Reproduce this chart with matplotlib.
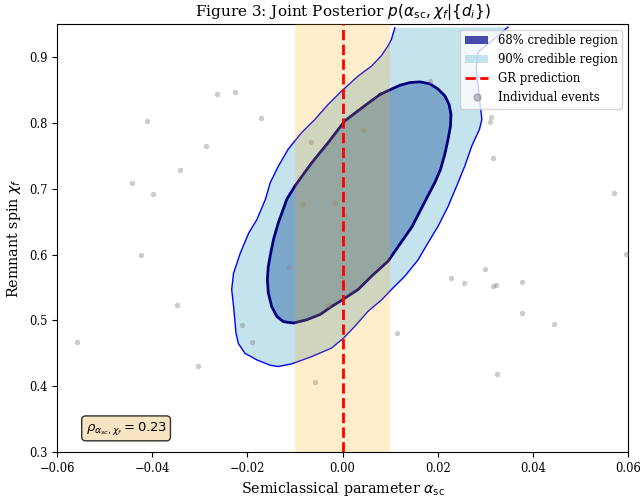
import matplotlib
matplotlib.use("Agg")
import matplotlib.pyplot as plt
from matplotlib.patches import Patch
from matplotlib.lines import Line2D

plt.rcParams["font.family"] = "DejaVu Serif"
plt.rcParams["mathtext.fontset"] = "dejavusans"

# ── 90% credible region outline (alpha_sc, chi_f) ──
a90 = [0.0110, 0.0103, 0.0096, 0.0082, 0.0061, 0.0033, -0.0002, -0.0030,
       -0.0058, -0.0086, -0.0114, -0.0135, -0.0152, -0.0162, -0.0180, -0.0197,
       -0.0215, -0.0229, -0.0233, -0.0229, -0.0224, -0.0219, -0.0205, -0.0180,
       -0.0152, -0.0135, -0.0107, -0.0065, -0.0023, 0.0002, 0.0026, 0.0054,
       0.0082, 0.0103, 0.0131, 0.0159, 0.0180, 0.0201, 0.0222, 0.0240,
       0.0257, 0.0272, 0.0288, 0.0293, 0.0289, 0.0281, 0.0285, 0.0310, 0.0348]
c90 = [0.944, 0.927, 0.917, 0.902, 0.886, 0.871, 0.848, 0.828,
       0.805, 0.785, 0.760, 0.734, 0.709, 0.684, 0.653, 0.633,
       0.602, 0.572, 0.547, 0.521, 0.481, 0.465, 0.450, 0.440,
       0.432, 0.430, 0.434, 0.445, 0.458, 0.473, 0.491, 0.514,
       0.531, 0.547, 0.567, 0.592, 0.618, 0.643, 0.673, 0.704,
       0.734, 0.765, 0.790, 0.805, 0.831, 0.881, 0.907, 0.922, 0.945]

# ── 68% credible region outline ──
a68 = [0.0079, 0.0100, 0.0121, 0.0142, 0.0163, 0.0184, 0.0201, 0.0215,
       0.0224, 0.0228, 0.0227, 0.0222, 0.0215, 0.0206, 0.0194, 0.0173,
       0.0146, 0.0117, 0.0096, 0.0061, 0.0033, -0.0005, -0.0023,
       -0.0047, -0.0075, -0.0103, -0.0124, -0.0138, -0.0149, -0.0156, -0.0158,
       -0.0156, -0.0151, -0.0145, -0.0135, -0.0117, -0.0100, -0.0065, -0.0030,
       0.0005, 0.0047]
c68 = [0.843, 0.850, 0.857, 0.861, 0.862, 0.859, 0.851, 0.841,
       0.828, 0.813, 0.795, 0.775, 0.752, 0.729, 0.709, 0.680,
       0.642, 0.612, 0.590, 0.567, 0.547, 0.529, 0.521,
       0.509, 0.501, 0.496, 0.498, 0.506, 0.521, 0.542, 0.562,
       0.582, 0.602, 0.623, 0.648, 0.684, 0.704, 0.739, 0.770,
       0.803, 0.826]

# ── individual events ──
ev_alpha = [-0.0263, -0.0226, -0.0412, -0.0171, -0.0288, -0.0341, -0.0442, -0.0398,
            -0.0423, -0.0348, -0.0558, -0.0304, -0.0211, -0.0190, -0.0113, 0.0184,
            0.0313, 0.0311, 0.0317, 0.0571, 0.0596, 0.0300, 0.0229, 0.0255,
            0.0316, 0.0322, 0.0377, 0.0377, 0.0445, 0.0115, 0.0324, -0.0067,
            0.0044, -0.0084, -0.0016, 0.0005, -0.0002, -0.0031, -0.0058]
ev_chi = [0.844, 0.847, 0.802, 0.807, 0.764, 0.729, 0.709, 0.692,
          0.600, 0.523, 0.467, 0.431, 0.493, 0.467, 0.581, 0.864,
          0.809, 0.801, 0.746, 0.694, 0.601, 0.578, 0.565, 0.557,
          0.552, 0.554, 0.558, 0.511, 0.494, 0.481, 0.418, 0.771,
          0.789, 0.677, 0.678, 0.658, 0.568, 0.523, 0.406]

gr_band = (-0.01, 0.01)
rho = 0.23

fig, ax = plt.subplots(figsize=(6.42, 4.98), dpi=100)
fig.subplots_adjust(left=0.089, right=0.978, bottom=0.092, top=0.952)

# filled regions (bands do not overlap, like contourf)
ax.fill(a90, c90, facecolor="lightblue", alpha=0.7, lw=0)
ax.fill(a68, c68, facecolor="white", lw=0)
ax.fill(a68, c68, facecolor="steelblue", alpha=0.7, lw=0)

# contour lines
ax.plot(a90, c90, color="blue", lw=1, solid_joinstyle="round")
ax.plot(a68 + a68[:1], c68 + c68[:1], color="navy", lw=2, solid_joinstyle="round")

ax.scatter(ev_alpha, ev_chi, s=15, color="gray", alpha=0.4, lw=0, zorder=3)

ax.axvspan(gr_band[0], gr_band[1], color="orange", alpha=0.2, lw=0, zorder=4)
ax.axvline(0, color="red", ls="--", lw=2, zorder=5)

ax.set_xlim(-0.06, 0.06)
ax.set_ylim(0.3, 0.95)
ax.tick_params(labelsize=8.3)
ax.set_xlabel(r"Semiclassical parameter $\alpha_{\rm sc}$", fontsize=10.3)
ax.set_ylabel(r"Remnant spin $\chi_f$", fontsize=10.3)
ax.set_title(r"Figure 3: Joint Posterior $p(\alpha_{\rm sc}, \chi_f | \{d_i\})$", fontsize=11)

ax.text(0.05, 0.05, rf"$\rho_{{\alpha_{{sc}}, \chi_f}} = {rho}$", transform=ax.transAxes,
        fontsize=9.5, family="DejaVu Sans",
        bbox=dict(boxstyle="round", facecolor="wheat", alpha=0.8), zorder=6)

handles = [
    Patch(facecolor="darkblue", alpha=0.7, label="68% credible region"),
    Patch(facecolor="lightblue", alpha=0.7, label="90% credible region"),
    Line2D([0], [0], color="red", ls="--", lw=2, label="GR prediction"),
    Line2D([0], [0], marker="o", color="gray", alpha=0.5, ls="none",
           markersize=5, label="Individual events"),
]
ax.legend(handles=handles, loc="upper right", fontsize=8.4)

plt.savefig("out.png", dpi=100)
plt.close()
